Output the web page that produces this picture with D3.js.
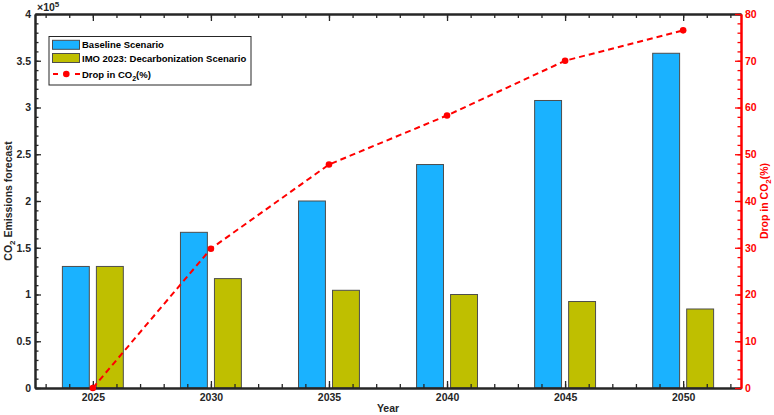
<!DOCTYPE html>
<html>
<head>
<meta charset="utf-8">
<script src="https://cdn.jsdelivr.net/npm/d3@7"></script>
<style>
  body { margin: 0; background: #fff; }
  svg { font-family: "Liberation Sans", Arial, Helvetica, sans-serif; font-weight: bold; }
</style>
</head>
<body>
<div id="chart"></div>
<script>
// data
const years = [2025, 2030, 2035, 2040, 2045, 2050]
const baseline = [1.30e5, 1.665e5, 2.0e5, 2.39e5, 3.075e5, 3.58e5]
const imo = [1.30e5, 1.17e5, 1.045e5, 1.0e5, 0.925e5, 0.845e5]
const drop = [0, 29.8, 47.8, 58.3, 70.0, 76.5]

const leftTicks = [0, 0.5e5, 1e5, 1.5e5, 2e5, 2.5e5, 3e5, 3.5e5, 4e5]
const rightTicks = [0, 10, 20, 30, 40, 50, 60, 70, 80]
const legendLabels = ["Baseline Scenario", "IMO 2023: Decarbonization Scenario"]

const W = 774, H = 415
const PLOT = { LEFT: 35, RIGHT: 741, TOP: 14, BOTTOM: 388 }
const BASE_COLOR = "#1ab2ff"
const IMO_COLOR = "#bfbf00"
const AXIS_COLOR = "#262626"
const RED = "#ff0000"

const svg = d3.select("#chart").append("svg")
  .attr("width", W)
  .attr("height", H)

const x = d3.scaleLinear().domain([2022.55, 2052.45]).range([PLOT.LEFT, PLOT.RIGHT])
const yL = d3.scaleLinear().domain([0, 4e5]).range([PLOT.BOTTOM, PLOT.TOP])
const yR = d3.scaleLinear().domain([0, 80]).range([PLOT.BOTTOM, PLOT.TOP])

const minorYears = d3.range(2023, 2053)
const minorLeft = d3.range(0, 41).map(d => d * 1e4)
const minorRight = d3.range(0, 41).map(d => d * 2)

// bars
const BAR_W = 1.14
const OFF = 0.72
const barGroup = svg.append("g")
function drawBars(values, offset, color) {
  barGroup.selectAll(null)
    .data(values)
    .enter()
    .append("rect")
    .attr("x", (d, i) => x(years[i] + offset - BAR_W / 2))
    .attr("width", (d, i) => x(years[i] + offset + BAR_W / 2) - x(years[i] + offset - BAR_W / 2))
    .attr("y", d => yL(d))
    .attr("height", d => yL(0) - yL(d))
    .attr("fill", color)
    .attr("stroke", "#4d4d4d")
    .attr("stroke-width", 1)
}
drawBars(baseline, -OFF, BASE_COLOR)
drawBars(imo, OFF, IMO_COLOR)

// axes
function styleAxis(g, color) {
  g.selectAll("path.domain").attr("stroke", color).attr("stroke-width", 2)
  g.selectAll(".tick line").attr("stroke", color).attr("stroke-width", 1.3)
  g.selectAll(".tick text").attr("fill", color)
    .style("font-family", "'Liberation Sans', Arial, sans-serif")
    .style("font-weight", "bold")
    .style("font-size", "10.5px")
}

// minor ticks
svg.append("g").attr("transform", `translate(0, ${PLOT.BOTTOM})`)
  .call(d3.axisBottom(x).tickValues(minorYears).tickFormat("").tickSize(-4).tickSizeOuter(0))
  .call(g => styleAxis(g, AXIS_COLOR))
svg.append("g").attr("transform", `translate(0, ${PLOT.TOP})`)
  .call(d3.axisTop(x).tickValues(minorYears).tickFormat("").tickSize(-4).tickSizeOuter(0))
  .call(g => styleAxis(g, AXIS_COLOR))
svg.append("g").attr("transform", `translate(${PLOT.LEFT}, 0)`)
  .call(d3.axisLeft(yL).tickValues(minorLeft).tickFormat("").tickSize(-3.5).tickSizeOuter(0))
  .call(g => styleAxis(g, AXIS_COLOR))
svg.append("g").attr("transform", `translate(${PLOT.RIGHT}, 0)`)
  .call(d3.axisRight(yR).tickValues(minorRight).tickFormat("").tickSize(-3.5).tickSizeOuter(0))
  .call(g => styleAxis(g, RED))

// major ticks
svg.append("g").attr("transform", `translate(0, ${PLOT.BOTTOM})`)
  .call(d3.axisBottom(x).tickValues(years).tickFormat(d3.format("d")).tickSize(-7).tickPadding(6).tickSizeOuter(0))
  .call(g => styleAxis(g, AXIS_COLOR))
svg.append("g").attr("transform", `translate(0, ${PLOT.TOP})`)
  .call(d3.axisTop(x).tickValues(years).tickFormat("").tickSize(-7).tickSizeOuter(0))
  .call(g => styleAxis(g, AXIS_COLOR))
svg.append("g").attr("transform", `translate(${PLOT.LEFT}, 0)`)
  .call(d3.axisLeft(yL).tickValues(leftTicks).tickFormat(d => d / 1e5).tickSize(-6).tickPadding(4).tickSizeOuter(0))
  .call(g => styleAxis(g, AXIS_COLOR))
svg.append("g").attr("transform", `translate(${PLOT.RIGHT}, 0)`)
  .call(d3.axisRight(yR).tickValues(rightTicks).tickSize(-6).tickPadding(4).tickSizeOuter(0))
  .call(g => styleAxis(g, RED))

// exponent label
const expo = svg.append("text")
  .attr("x", PLOT.LEFT + 2)
  .attr("y", PLOT.TOP - 3)
  .attr("font-size", 10.5)
  .attr("fill", AXIS_COLOR)
expo.append("tspan").text("×10")
expo.append("tspan").attr("dy", -4).attr("font-size", 8).text("5")

// drop line
const line = d3.line()
  .x((d, i) => x(years[i]))
  .y(d => yR(d))
svg.append("path")
  .datum(drop)
  .attr("fill", "none")
  .attr("stroke", RED)
  .attr("stroke-width", 2)
  .attr("stroke-dasharray", "6,4")
  .attr("d", line)
svg.selectAll(".pt")
  .data(drop)
  .enter()
  .append("circle")
  .attr("cx", (d, i) => x(years[i]))
  .attr("cy", d => yR(d))
  .attr("r", 3.3)
  .attr("fill", RED)

// axis titles
svg.append("text")
  .attr("x", (PLOT.LEFT + PLOT.RIGHT) / 2)
  .attr("y", 412)
  .attr("text-anchor", "middle")
  .attr("font-size", 10.5)
  .attr("fill", AXIS_COLOR)
  .text("Year")

const yTitle = svg.append("text")
  .attr("transform", `translate(12, ${(PLOT.TOP + PLOT.BOTTOM) / 2}) rotate(-90)`)
  .attr("text-anchor", "middle")
  .attr("font-size", 10.5)
  .attr("fill", AXIS_COLOR)
yTitle.append("tspan").text("CO")
yTitle.append("tspan").attr("dy", 3).attr("font-size", 8).text("2")
yTitle.append("tspan").attr("dy", -3).text(" Emissions forecast")

const yTitleR = svg.append("text")
  .attr("transform", `translate(768, ${(PLOT.TOP + PLOT.BOTTOM) / 2}) rotate(-90)`)
  .attr("text-anchor", "middle")
  .attr("font-size", 10.5)
  .attr("fill", RED)
yTitleR.append("tspan").text("Drop in CO")
yTitleR.append("tspan").attr("dy", 3).attr("font-size", 8).text("2")
yTitleR.append("tspan").attr("dy", -3).text("(%)")

// legend
const legend = svg.append("g")
legend.append("rect")
  .attr("x", 49).attr("y", 36.5)
  .attr("width", 202).attr("height", 48.5)
  .attr("fill", "#fff")
  .attr("stroke", AXIS_COLOR)
  .attr("stroke-width", 1)

const patchColors = [BASE_COLOR, IMO_COLOR]
legendLabels.forEach((label, i) => {
  const cy = 44.8 + i * 13.2
  legend.append("rect")
    .attr("x", 52.5).attr("y", cy - 4.5)
    .attr("width", 27).attr("height", 9)
    .attr("fill", patchColors[i])
    .attr("stroke", "#4d4d4d")
  legend.append("text")
    .attr("x", 82).attr("y", cy + 3.5)
    .attr("font-size", 9.5)
    .attr("fill", "#000")
    .text(label)
})
const ly = 74
legend.append("line")
  .attr("x1", 53).attr("x2", 80)
  .attr("y1", ly).attr("y2", ly)
  .attr("stroke", RED)
  .attr("stroke-width", 2)
  .attr("stroke-dasharray", "5,6,0,0,5,6")
legend.append("circle")
  .attr("cx", 66.3).attr("cy", ly).attr("r", 3.3).attr("fill", RED)
const lt = legend.append("text")
  .attr("x", 82).attr("y", ly + 3.5)
  .attr("font-size", 9.5)
  .attr("fill", "#000")
lt.append("tspan").text("Drop in CO")
lt.append("tspan").attr("dy", 3).attr("font-size", 7).text("2")
lt.append("tspan").attr("dy", -3).text("(%)")
</script>
</body>
</html>
